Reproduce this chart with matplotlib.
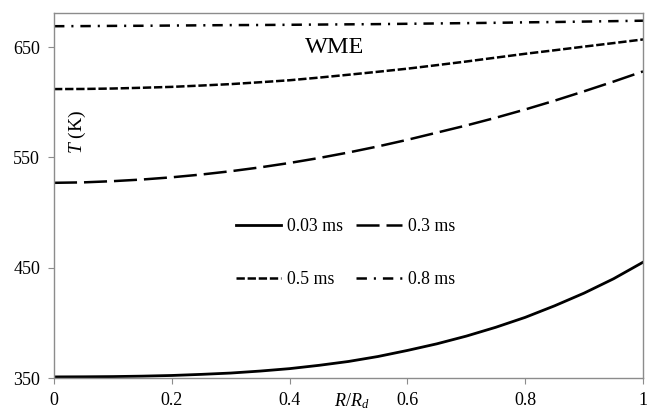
import numpy as np
import matplotlib
matplotlib.use("Agg")
import matplotlib.pyplot as plt

plt.rcParams['font.family'] = ['Liberation Serif', 'DejaVu Serif']
plt.rcParams['mathtext.fontset'] = 'custom'
plt.rcParams['mathtext.rm'] = 'Liberation Serif'
plt.rcParams['mathtext.it'] = 'Liberation Serif:italic'

# radial position R/Rd
r = [0.0, 0.05, 0.1, 0.15, 0.2, 0.25, 0.3, 0.35, 0.4, 0.45, 0.5,
     0.55, 0.6, 0.65, 0.7, 0.75, 0.8, 0.85, 0.9, 0.95, 1.0]

# temperature profiles (K) at different times
t_003 = [351, 351.1, 351.3, 351.7, 352.3, 353.3, 354.5, 356.3, 358.5, 361.5, 365,
         369.5, 375, 381, 388, 396, 405, 415.5, 427, 440, 455]
t_03 = [527, 527.4, 528.5, 530, 532, 534.5, 537.5, 541, 545, 549.5, 554.5,
        560, 566, 572.5, 579, 586, 593.5, 601.5, 610, 618.8, 628]
t_05 = [612, 612.1, 612.5, 613.2, 614, 615.2, 616.5, 618.2, 620, 622.4, 625,
        627.7, 630.5, 633.7, 637, 640.5, 644, 647.2, 650.5, 653.7, 657]
t_08 = [669, 669.1, 669.3, 669.4, 669.6, 669.8, 670, 670.1, 670.3, 670.5, 670.7,
        670.9, 671.2, 671.5, 671.8, 672.1, 672.5, 672.8, 673.2, 673.6, 674]

labels = ['0.03 ms', '0.3 ms', '0.5 ms', '0.8 ms']
xticks = [0, 0.2, 0.4, 0.6, 0.8, 1]
yticks = [350, 450, 550, 650]

fig = plt.figure(figsize=(6.49, 4.12), dpi=100)
ax = fig.add_axes([0.0832, 0.0825, 0.9076, 0.886])

lw = 1.8
def pts(*seq):
    # dash lengths given in points, converted to linewidth units
    return tuple(v / lw for v in seq)

l1, = ax.plot(r, t_003, color='black', lw=2.0, linestyle='-', label=labels[0])
l2, = ax.plot(r, t_03, color='black', lw=lw, dashes=pts(16.6, 5.0), label=labels[1])
l3, = ax.plot(r, t_05, color='black', lw=lw, dashes=pts(6.0, 2.0), label=labels[2])
l4, = ax.plot(r, t_08, color='black', lw=lw, dashes=pts(7.5, 5.0, 1.5, 5.0), label=labels[3])

ax.set_xlim(0, 1)
ax.set_ylim(350, 681)
ax.set_xticks(xticks)
ax.set_xticklabels(['0', '0.2', '0.4', '0.6', '0.8', '1'])
ax.set_yticks(yticks)
ax.tick_params(direction='out', length=4, width=0.8, color='#8c8c8c',
               labelsize=13, pad=6)
for s in ax.spines.values():
    s.set_color('#8c8c8c')
    s.set_linewidth(1.0)

ax.text(0.477, 650, 'WME', fontsize=17.5, ha='center', va='center')
ax.text(0.039, 573, r'$T$ (K)', rotation=90, fontsize=14, ha='center', va='center')
ax.text(0.506, -0.078, r'$R/R_d$', transform=ax.transAxes, fontsize=13,
        ha='center', va='baseline', clip_on=False)

ax.legend([l1, l3, l2, l4], [labels[0], labels[2], labels[1], labels[3]],
          ncol=2, frameon=False, loc='center', bbox_to_anchor=(0.495, 0.342),
          fontsize=12.8, handlelength=2.55, handletextpad=0.34, columnspacing=0.73,
          labelspacing=2.0, borderpad=0)

fig.savefig('out.png', dpi=100)
